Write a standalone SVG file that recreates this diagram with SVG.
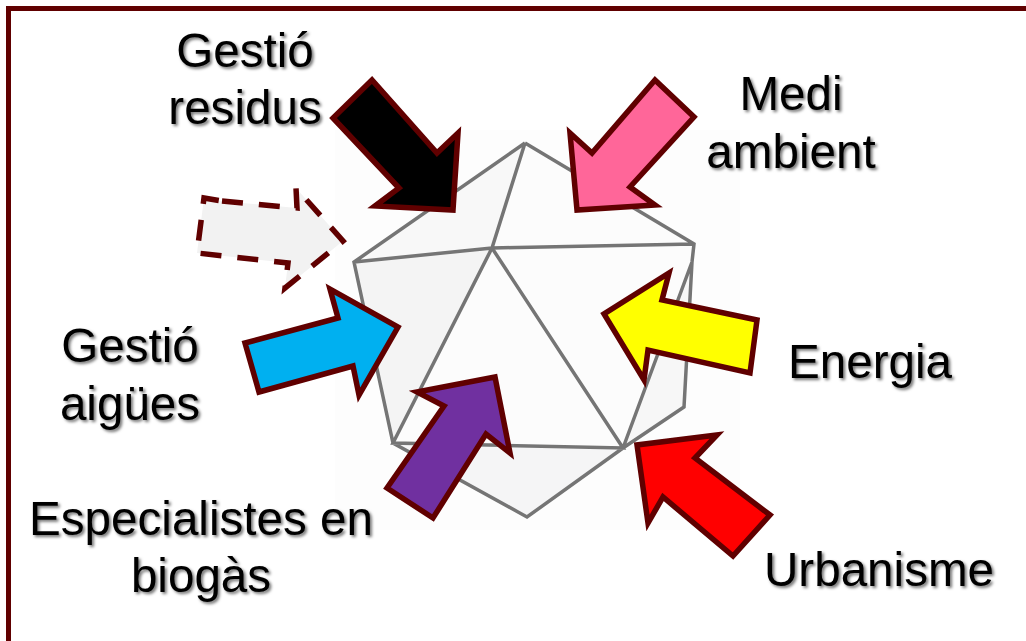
<svg xmlns="http://www.w3.org/2000/svg" width="1026" height="641" viewBox="0 0 1026 641">
<defs>
<filter id="ts" x="-10%" y="-20%" width="120%" height="140%"><feDropShadow dx="2" dy="2" stdDeviation="1.5" flood-color="#000" flood-opacity="0.55"/></filter>
<filter id="soft" x="-5%" y="-5%" width="110%" height="110%"><feGaussianBlur stdDeviation="0.7"/></filter>
</defs>
<style>
text{font-family:"Liberation Sans",Arial,sans-serif;font-size:47.6px;fill:#000;text-anchor:middle;filter:url(#ts)}
.a{stroke:#600000;stroke-width:5.5;stroke-linejoin:miter;stroke-miterlimit:10}
.e{fill:none;stroke:#757575;stroke-width:3.5}
</style>
<rect width="1026" height="641" fill="#fff"/>
<rect x="8.5" y="8.5" width="1030" height="650" fill="#fff" stroke="#600000" stroke-width="5"/>
<g id="polyhedron">
<rect x="335" y="130" width="405" height="400" fill="#fdfdfd"/>
<g filter="url(#soft)">
<polygon points="525,143 694,244 684,407 623,448 527,517 393,443 354,262" fill="#fcfcfc"/>
<polygon points="354,262 492,248 393,443" fill="#f4f4f4"/>
<polygon points="393,443 623,448 527,517" fill="#f5f5f6"/>
<polygon points="525,143 354,262 492,248" fill="#f8f8f8"/>
<polygon points="692,262 684,407 623,448" fill="#f7f7f7"/>
<path class="e" d="M525,143L354,262L393,443L527,517L623,448L684,407L692,262L623,448M525,143L694,244L692,262M525,143L492,248M354,262L492,248L694,244M492,248L393,443L623,448L492,248"/>
</g>
</g>
<g id="connectors">
<polygon id="arrow-residus" class="a" fill="#000" points="372,80 333,118 399,188 375,206 453,210 458,133 437,153"/>
<polygon id="arrow-medi" class="a" fill="#ff6699" points="655,80 694,117 630,187 655,205 577,210 570,133 592,153"/>
<polygon id="arrow-dashed" class="a" fill="#f2f2f2" stroke-dasharray="21 16" points="222,201 297,208 296,188 343,241 285,288 288,263 197,253 204,198"/>
<polygon id="arrow-energia" class="a" fill="#ffff00" points="757,320 750,373 648,350 644,380 604,314 669,273 662,300"/>
<polygon id="arrow-aigues" class="a" fill="#00b0f0" points="245,343 259,392 353,366 359,395 398,327 330,289 338,318"/>
<polygon id="arrow-biogas" class="a" fill="#7030a0" points="387,488 433,518 486,434 510,453 495,377 417,392 444,406"/>
<polygon id="arrow-urbanisme" class="a" fill="#ff0000" points="770,515 733,556 663,497 648,523 637,445 717,435 695,458"/>
</g>
<g id="label-residus"><text x="245" y="67">Gestió</text><text x="245" y="124">residus</text></g>
<g id="label-medi"><text x="791" y="110">Medi</text><text x="791" y="168">ambient</text></g>
<g id="label-energia"><text x="870" y="378">Energia</text></g>
<g id="label-aigues"><text x="130" y="362">Gestió</text><text x="130" y="420">aigües</text></g>
<g id="label-biogas"><text x="201" y="535">Especialistes en</text><text x="201" y="592">biogàs</text></g>
<g id="label-urbanisme"><text x="879" y="586">Urbanisme</text></g>
</svg>
